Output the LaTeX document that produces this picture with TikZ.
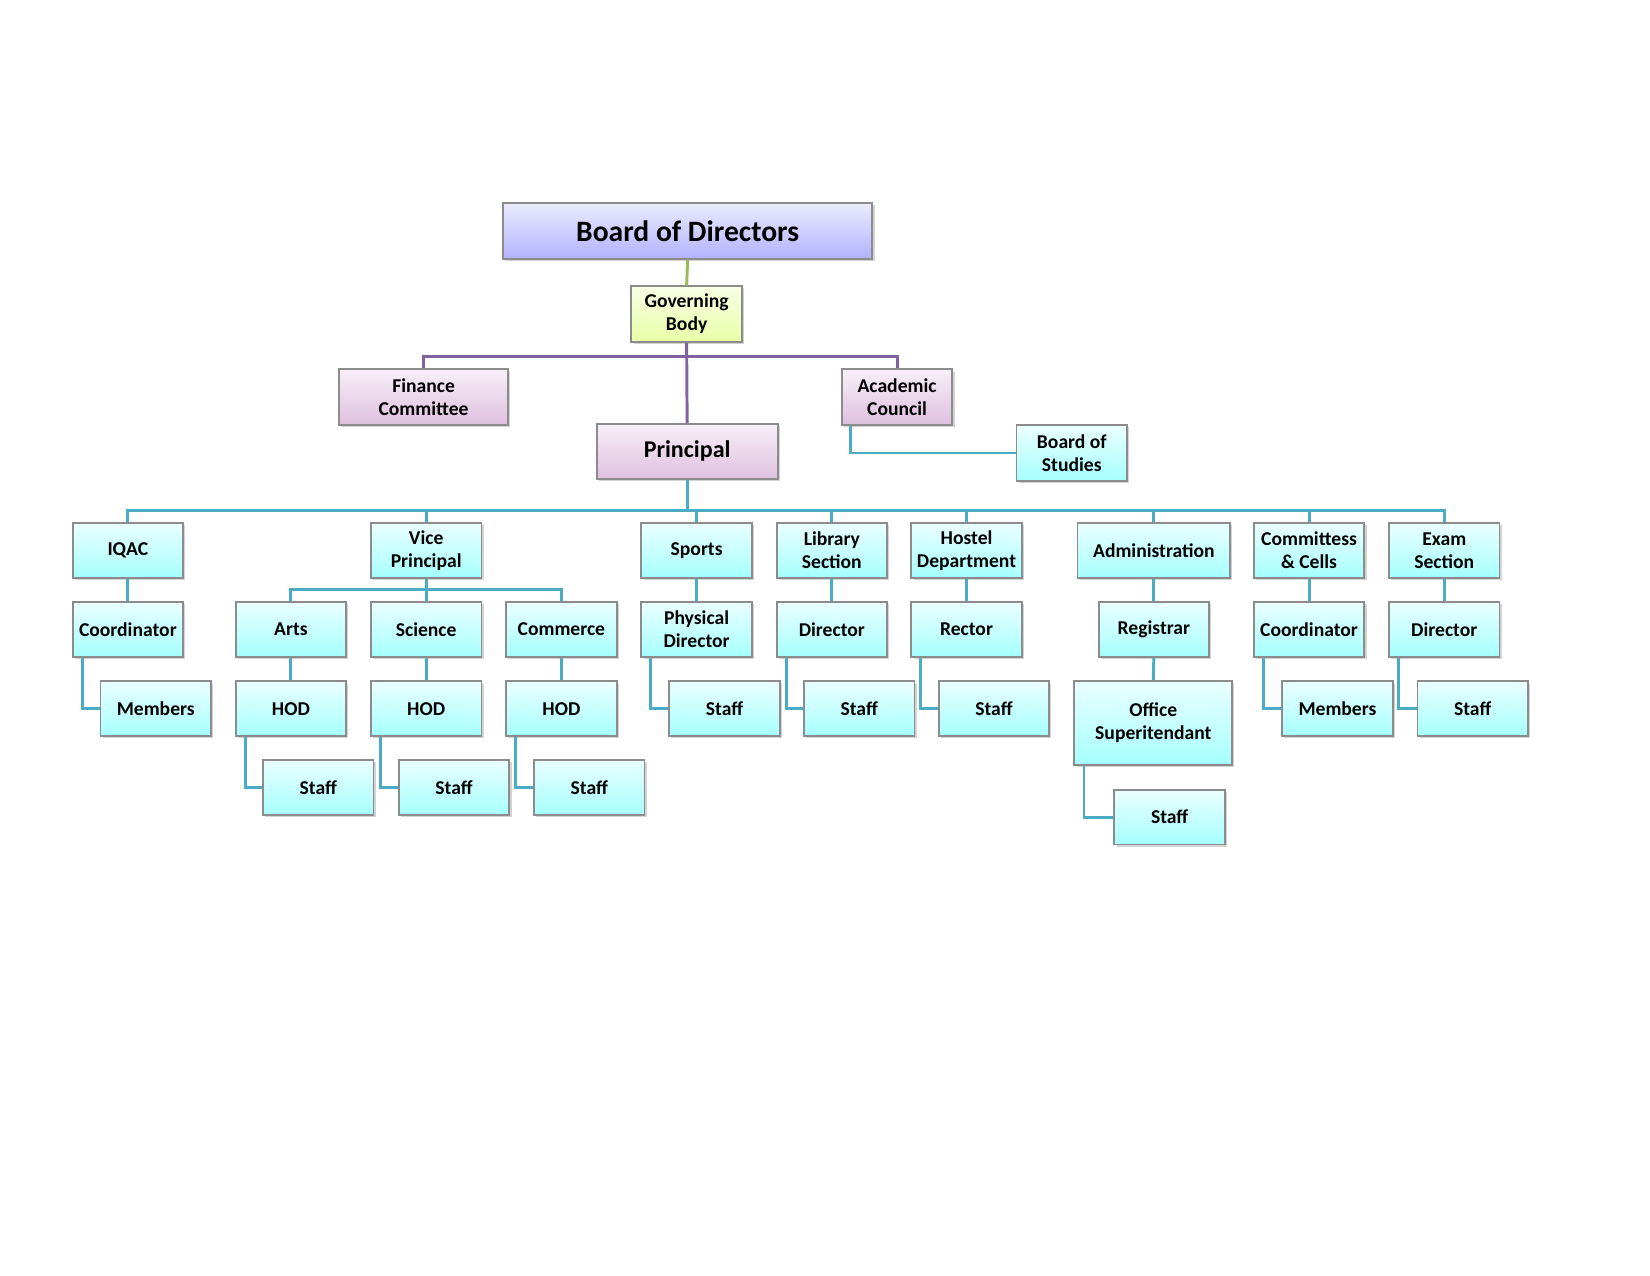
\documentclass[tikz,border=0pt]{standalone}
\usepackage{fontspec}
\setmainfont{Carlito}
\usetikzlibrary{shadows,calc}
\definecolor{cyanline}{HTML}{4BACC6}
\definecolor{purpline}{HTML}{8064A2}
\definecolor{greenline}{HTML}{9BBB59}
\tikzset{
  orgbox/.style={draw=gray!90, line width=0.5pt, minimum width=10.5mm, minimum height=5.2mm,
    align=center, inner sep=1pt, font=\fontsize{5.3}{6.2}\selectfont\bfseries,
    top color=cyan!8, bottom color=cyan!35!white,
    drop shadow={shadow xshift=0.6pt, shadow yshift=-0.6pt, opacity=0.35}},
  purpbox/.style={orgbox, top color=violet!6, bottom color=violet!25!white},
  link/.style={cyanline, line width=0.8pt},
}
\begin{document}
\begin{tikzpicture}[x=0.1mm, y=-0.1mm]
    \useasboundingbox (0,0) rectangle (1568,1212);
    % Top levels
    \node[orgbox, minimum width=35.1mm, minimum height=5.3mm, top color=blue!8, bottom color=blue!30!white,
          font=\fontsize{8}{9}\selectfont\bfseries] (bod) at (653.5,219.5) {Board of Directors};
    \node[orgbox, minimum height=5.3mm, top color=lime!10, bottom color=lime!35!white] (gov) at (652.5,298.5) {Governing\\Body};
    \node[purpbox, minimum width=16.1mm, minimum height=5.3mm] (fin) at (402.5,377.5) {Finance\\Committee};
    \node[purpbox, minimum height=5.3mm] (acad) at (852.5,377.5) {Academic\\Council};
    \node[purpbox, minimum width=17.2mm, font=\fontsize{6.5}{7.5}\selectfont\bfseries] (prin) at (653,429) {Principal};
    \node[orgbox, minimum height=5.3mm] (bos) at (1018.5,430.5) {Board of\\Studies};

    % Departments
    \node[orgbox] (iqac) at (121.5,523) {IQAC};
    \node[orgbox] (vp) at (405,523) {Vice\\Principal};
    \node[orgbox] (sports) at (662,523) {Sports};
    \node[orgbox] (lib) at (790.5,523) {Library\\Section};
    \node[orgbox] (hostel) at (918.5,523) {Hostel\\Department};
    \node[orgbox, minimum width=14.5mm] (admin) at (1096.5,523) {Administration};
    \node[orgbox] (comm) at (1244,523) {Committess\\\& Cells};
    \node[orgbox] (exam) at (1372.5,523) {Exam\\Section};

    % Second row
    \node[orgbox] (iqcoord) at (121.5,598) {Coordinator};
    \node[orgbox] (arts) at (276.5,598) {Arts};
    \node[orgbox] (sci) at (405,598) {Science};
    \node[orgbox] (com) at (533.5,598) {Commerce};
    \node[orgbox] (phys) at (662,598) {Physical\\Director};
    \node[orgbox] (libdir) at (790.5,598) {Director};
    \node[orgbox] (rector) at (918.5,598) {Rector};
    \node[orgbox] (reg) at (1096.5,598) {Registrar};
    \node[orgbox] (cmcoord) at (1244,598) {Coordinator};
    \node[orgbox] (exdir) at (1372.5,598) {Director};

    % Third row
    \node[orgbox] (iqmem) at (148,673.5) {Members};
    \node[orgbox] (artshod) at (276.5,673.5) {HOD};
    \node[orgbox] (scihod) at (405,673.5) {HOD};
    \node[orgbox] (comhod) at (533.5,673.5) {HOD};
    \node[orgbox] (physstaff) at (688.5,673.5) {Staff};
    \node[orgbox] (libstaff) at (816.5,673.5) {Staff};
    \node[orgbox] (hoststaff) at (944.5,673.5) {Staff};
    \node[orgbox, minimum width=15mm, minimum height=8mm] (osup) at (1096,687) {Office\\Superitendant};
    \node[orgbox] (cmmem) at (1271,673.5) {Members};
    \node[orgbox] (exstaff) at (1399.5,673.5) {Staff};

    % Fourth row
    \node[orgbox] (artsstaff) at (302.5,748.5) {Staff};
    \node[orgbox] (scistaff) at (431.5,748.5) {Staff};
    \node[orgbox] (comstaff) at (560,748.5) {Staff};
    \node[orgbox] (adstaff) at (1111.5,776.5) {Staff};

    % Connectors
    \draw[greenline, line width=0.8pt] (bod.south) -- (gov.north);
    \coordinate (govbus) at (652.5,339);
    \draw[purpline, line width=0.8pt] (gov.south) -- (prin.north);
    \draw[purpline, line width=0.8pt] (fin.north) |- (govbus) -| (acad.north);
    \draw[link] ($(acad.south west)+(9,0)$) |- (bos.west);

    \coordinate (bus) at (653,485);
    \foreach \n in {iqac,vp,sports,lib,hostel,admin,comm,exam}
        \draw[link] (prin.south) -- (bus) -| (\n.north);
    \coordinate (vpbus) at (405,560);
    \foreach \n in {arts,sci,com}
        \draw[link] (vp.south) -- (vpbus) -| (\n.north);
    \foreach \a/\b in {iqac/iqcoord,sports/phys,lib/libdir,hostel/rector,admin/reg,reg/osup,
                       comm/cmcoord,exam/exdir,arts/artshod,sci/scihod,com/comhod}
        \draw[link] (\a.south) -- (\b.north);
    \foreach \a/\b in {iqcoord/iqmem,phys/physstaff,libdir/libstaff,rector/hoststaff,cmcoord/cmmem,
                       exdir/exstaff,artshod/artsstaff,scihod/scistaff,comhod/comstaff,osup/adstaff}
        \draw[link] ($(\a.south west)+(10,0)$) |- (\b.west);
\end{tikzpicture}
\end{document}
